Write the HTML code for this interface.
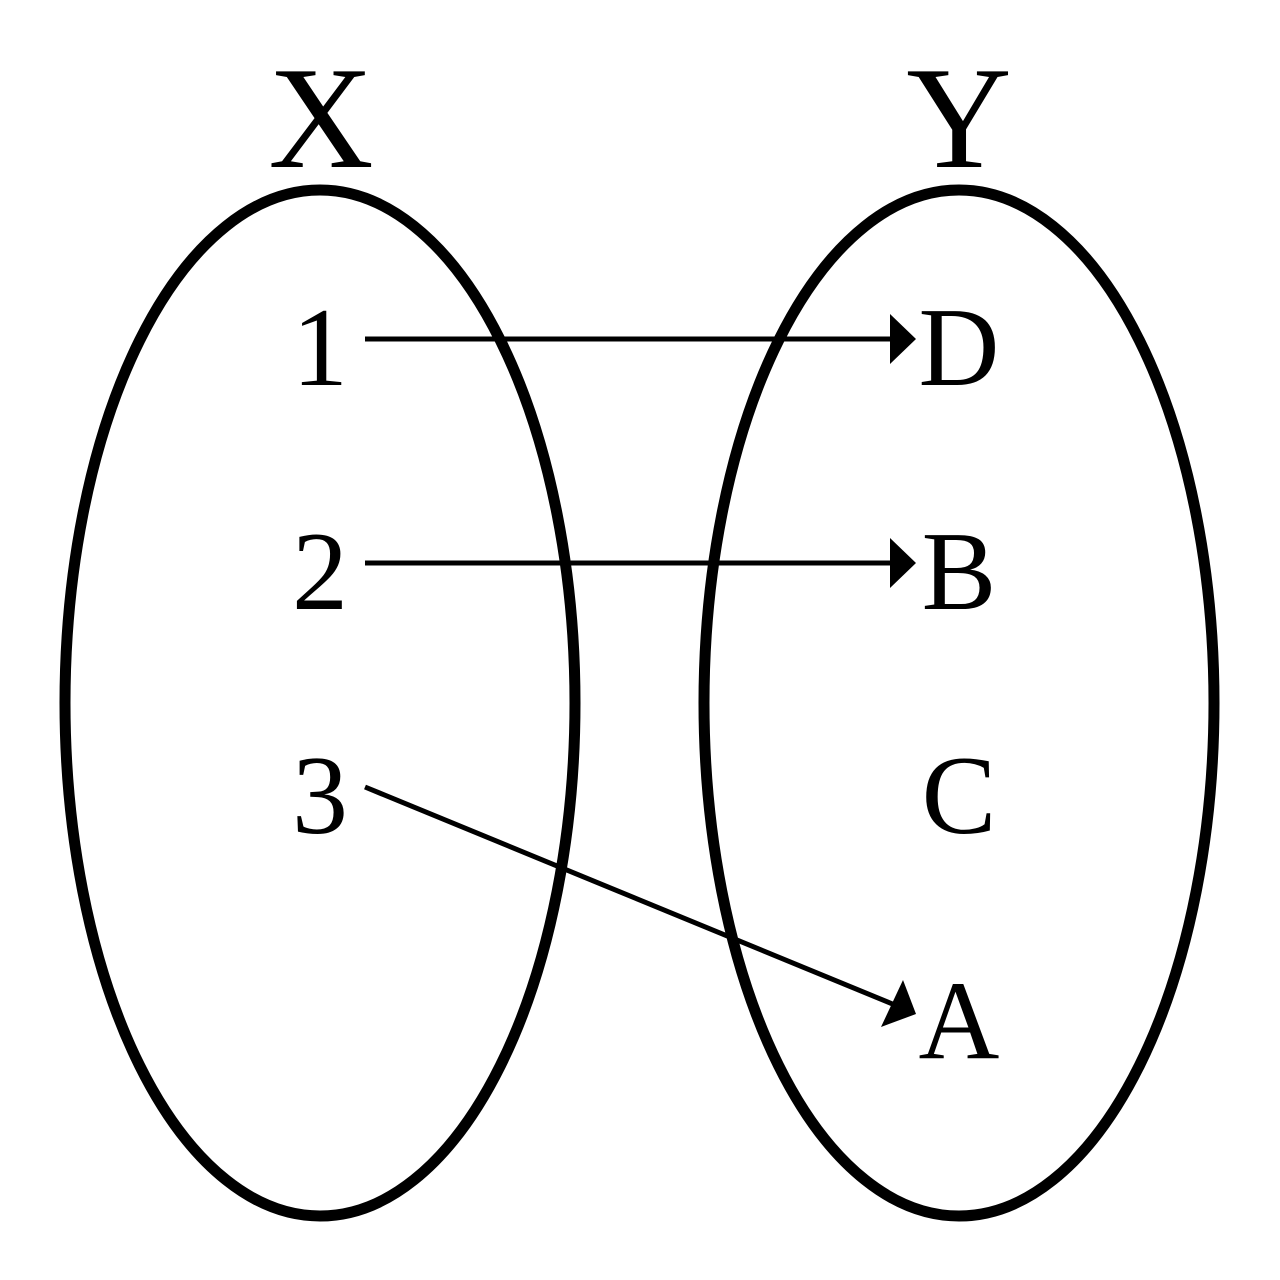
<!DOCTYPE html>
<html><head><meta charset="utf-8"><style>html,body{margin:0;padding:0;background:#fff}svg{display:block}</style></head>
<body>
<svg width="1280" height="1280" viewBox="0 0 1280 1280" xmlns="http://www.w3.org/2000/svg">
<rect width="1280" height="1280" fill="#fff"/>
<ellipse cx="320" cy="703" rx="255" ry="513" fill="none" stroke="#000" stroke-width="11"/>
<ellipse cx="959" cy="703" rx="255" ry="513" fill="none" stroke="#000" stroke-width="11"/>
<g font-family="Liberation Serif, serif" fill="#000" text-anchor="middle">
<text x="321" y="167" font-size="146">X</text>
<text x="959" y="167" font-size="146">Y</text>
<text x="320" y="385" font-size="112">1</text>
<text x="320" y="609" font-size="112">2</text>
<text x="320" y="833" font-size="112">3</text>
<text x="959" y="385" font-size="112">D</text>
<text x="959" y="609" font-size="112">B</text>
<text x="959" y="833" font-size="112">C</text>
<text x="959" y="1058" font-size="112">A</text>
</g>
<g stroke="#000" stroke-width="5">
<line x1="365" y1="339" x2="892" y2="339"/>
<line x1="365" y1="563" x2="892" y2="563"/>
<line x1="365" y1="787" x2="895" y2="1005"/>
</g>
<g fill="#000">
<polygon points="890,314 916,339 890,364"/>
<polygon points="890,538 916,563 890,588"/>
<polygon points="903,980 916,1014 881,1027"/>
</g>
</svg>
</body></html>
